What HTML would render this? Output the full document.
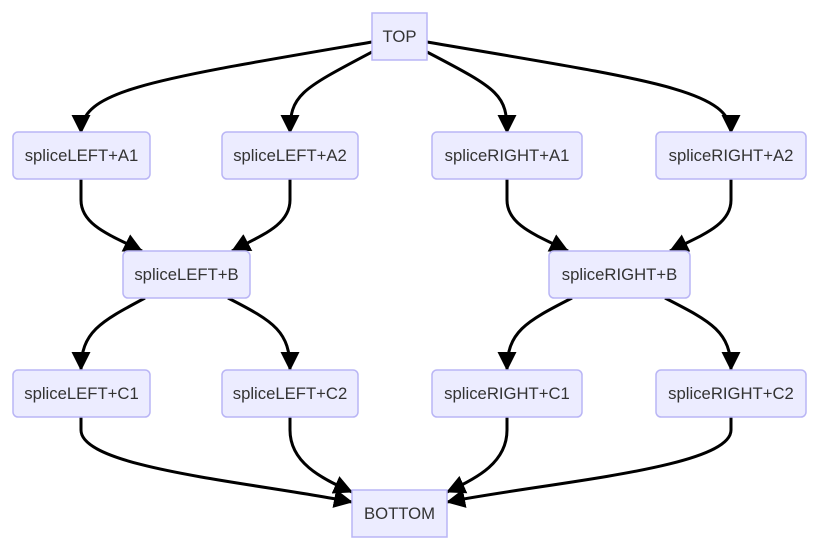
<!DOCTYPE html>
<html><head><meta charset="utf-8"><style>
html,body{margin:0;padding:0;background:#fff;}
svg{display:block;}
text{font-family:"Liberation Sans",sans-serif;font-size:16.7px;fill:#333;}
</style></head><body>
<svg width="820" height="548" viewBox="0 0 820 548" xmlns="http://www.w3.org/2000/svg">
<defs>
<marker id="a" markerUnits="userSpaceOnUse" markerWidth="22" markerHeight="22" refX="18" refY="9.5" orient="auto">
<path d="M0,0 L19,9.5 L0,19 z" fill="#000"/>
</marker>
</defs>
<g fill="none" stroke="#000" stroke-width="3" marker-end="url(#a)">
<path d="M372,42 C150,80 81,90 81,133"/>
<path d="M372,52 C300,90 290,95 290,133"/>
<path d="M427,52 C500,90 507,95 507,133"/>
<path d="M427,42 C650,80 731,90 731,133"/>
<path d="M81,179 L81,200 C81,225 110,235 142,251"/>
<path d="M290,179 L290,200 C290,225 262,235 232,251"/>
<path d="M507,179 L507,200 C507,225 536,235 568,251"/>
<path d="M731,179 L731,200 C731,225 702,235 670,251"/>
<path d="M145,298 C100,322 81,332 81,370"/>
<path d="M228,298 C275,322 290,332 290,370"/>
<path d="M572,298 C525,322 507,332 507,370"/>
<path d="M665,298 C712,322 731,332 731,370"/>
<path d="M81,416 L81,430 C81,468 250,482 352,502"/>
<path d="M290,416 L290,430 C290,462 320,478 352,492"/>
<path d="M507,416 L507,430 C507,462 478,478 447,492"/>
<path d="M731,416 L731,430 C731,468 550,482 447,502"/>
</g>
<g fill="#ECECFF" stroke="#b9b5f5" stroke-width="1.5">
<rect x="372" y="13" width="55" height="47"/>
<rect x="13" y="132" width="137" height="47" rx="5"/>
<rect x="222" y="132" width="136" height="47" rx="5"/>
<rect x="432" y="132" width="150" height="47" rx="5"/>
<rect x="656" y="132" width="150" height="47" rx="5"/>
<rect x="123" y="251" width="127" height="47" rx="5"/>
<rect x="549" y="251" width="141" height="47" rx="5"/>
<rect x="13" y="370" width="137" height="47" rx="5"/>
<rect x="222" y="370" width="136" height="47" rx="5"/>
<rect x="432" y="370" width="150" height="47" rx="5"/>
<rect x="656" y="370" width="150" height="47" rx="5"/>
<rect x="352" y="490" width="95" height="47"/>
</g>
<g text-anchor="middle">
<text x="399.5" y="42">TOP</text>
<text x="81.5" y="161">spliceLEFT+A1</text>
<text x="290" y="161">spliceLEFT+A2</text>
<text x="507" y="161">spliceRIGHT+A1</text>
<text x="731" y="161">spliceRIGHT+A2</text>
<text x="186.5" y="280">spliceLEFT+B</text>
<text x="619.5" y="280">spliceRIGHT+B</text>
<text x="81.5" y="399">spliceLEFT+C1</text>
<text x="290" y="399">spliceLEFT+C2</text>
<text x="507" y="399">spliceRIGHT+C1</text>
<text x="731" y="399">spliceRIGHT+C2</text>
<text x="399.5" y="519">BOTTOM</text>
</g>
</svg>
</body></html>
